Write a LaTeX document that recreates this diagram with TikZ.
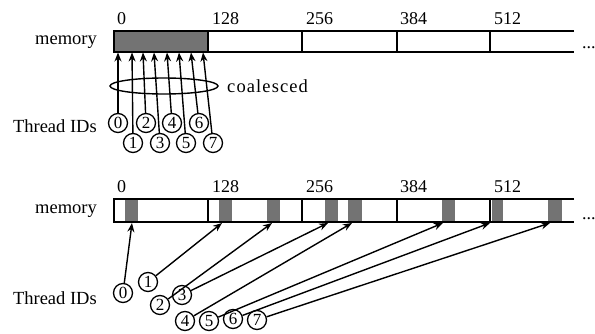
\documentclass[tikz,border=0pt]{standalone}
\usepackage{fontspec}
\setmainfont{Liberation Serif}
\usetikzlibrary{arrows.meta,shapes.geometric}
\begin{document}
\begin{tikzpicture}[x=1pt,y=-1pt,
  memline/.style={line width=1.9pt},
  cellfill/.style={fill=black!55},
  thr/.style={circle,draw,line width=1.3pt,inner sep=0pt,minimum size=19pt,font=\fontsize{17}{17}\selectfont},
  arr/.style={line width=1.4pt,-{Stealth[length=9pt,width=7pt]}},
  lbl/.style={font=\fontsize{18.5}{18.5}\selectfont,inner sep=0pt},
  num/.style={font=\fontsize{18}{18}\selectfont,inner sep=0pt},
]
\useasboundingbox (0,0) rectangle (595,334);
% ---------- top memory ----------
\fill[cellfill] (114,31) rectangle (208,52);
\draw[memline] (574,31) -- (114,31) -- (114,52) -- (574,52);
\foreach \x in {208,302,397,490} \draw[memline] (\x,31) -- (\x,52);
\node[num,anchor=base west] (ta) at (117,25) {0};
\node[num,anchor=base west] (tb) at (212,25) {128};
\node[num,anchor=base west] (tc) at (306,25) {256};
\node[num,anchor=base west] (td) at (400,25) {384};
\node[num,anchor=base west] (te) at (494,25) {512};
\node[num,anchor=base west] (tdots) at (582,49) {...};
\node[lbl,anchor=base east] (tmem) at (97,45) {memory};
\node[lbl,anchor=base east] (tthr) at (97,133) {Thread IDs};
\node[draw,ellipse,line width=1.4pt,minimum width=108pt,minimum height=16pt,inner sep=0pt] (coal) at (164,86) {};
\node[lbl,anchor=west] (coaltxt) at (227,86) {\addfontfeature{LetterSpace=6}coalesced};
% threads top
\node[thr] (c0) at (118,123) {0};
\node[thr] (c1) at (133,143) {1};
\node[thr] (c2) at (146,123) {2};
\node[thr] (c3) at (160,143) {3};
\node[thr] (c4) at (172,123) {4};
\node[thr] (c5) at (186,143) {5};
\node[thr] (c6) at (199,123) {6};
\node[thr] (c7) at (213,143) {7};
\coordinate (a0) at (118,52.5);
\coordinate (a1) at (132,52.5);
\coordinate (a2) at (143,52.5);
\coordinate (a3) at (154,52.5);
\coordinate (a4) at (167,52.5);
\coordinate (a5) at (179,52.5);
\coordinate (a6) at (191,52.5);
\coordinate (a7) at (203,52.5);
\foreach \i in {0,...,7} \draw[arr] (c\i) -- (a\i);
% ---------- bottom memory ----------
\foreach \l/\r in {125/138,219/232,267/280,325/338,348/362,442/455,492/503,548/562}
  \fill[cellfill] (\l,199) rectangle (\r,222);
\draw[memline] (574,199) -- (114,199) -- (114,222) -- (574,222);
\foreach \x in {208,302,397,490} \draw[memline] (\x,199) -- (\x,222);
\node[num,anchor=base west] (ba) at (117,193) {0};
\node[num,anchor=base west] (bb) at (212,193) {128};
\node[num,anchor=base west] (bc) at (306,193) {256};
\node[num,anchor=base west] (bd) at (400,193) {384};
\node[num,anchor=base west] (be) at (494,193) {512};
\node[num,anchor=base west] (bdots) at (582,219) {...};
\node[lbl,anchor=base east] (bmem) at (97,214) {memory};
\node[lbl,anchor=base east] (bthr) at (97,305) {Thread IDs};
\node[thr] (d0) at (123,293) {0};
\node[thr] (d1) at (148,282) {1};
\node[thr] (d2) at (160,305) {2};
\node[thr] (d3) at (182,295) {3};
\node[thr] (d4) at (185,321) {4};
\node[thr] (d5) at (209,321) {5};
\node[thr] (d6) at (233,319) {6};
\node[thr] (d7) at (257,320) {7};
\coordinate (b0) at (132,223);
\coordinate (b1) at (222,223);
\coordinate (b2) at (272,223);
\coordinate (b3) at (328,223);
\coordinate (b4) at (352,223);
\coordinate (b5) at (443,223);
\coordinate (b6) at (490,223);
\coordinate (b7) at (550,223);
\foreach \i in {0,...,7} \draw[arr] (d\i) -- (b\i);
\end{tikzpicture}
\end{document}
